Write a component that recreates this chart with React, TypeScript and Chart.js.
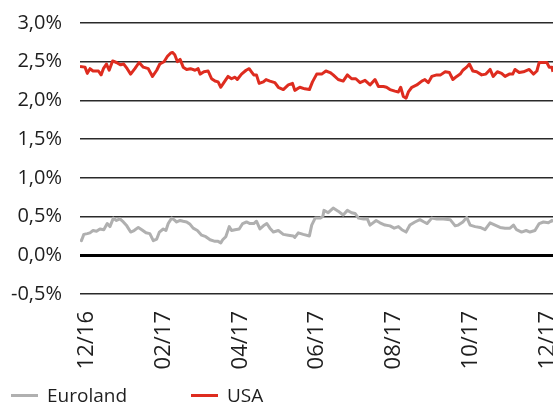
import React, { useEffect, useRef } from "react";
import { Chart, registerables } from "chart.js";

Chart.register(...registerables);

// x values are months since the start of December 2016
const tickMonths = [0, 2, 4, 6, 8, 10, 12];
const tickLabels = ["12/16", "02/17", "04/17", "06/17", "08/17", "10/17", "12/17"];
const yTicks = [-0.5, 0, 0.5, 1.0, 1.5, 2.0, 2.5, 3.0];

const usaT = [-0.18,-0.05,0.01,0.08,0.16,0.30,0.37,0.43,0.51,0.58,0.67,0.77,0.88,0.96,1.05,1.14,1.25,1.36,1.47,1.60,1.71,1.82,1.90,2.01,2.10,2.18,2.23,2.29,2.36,2.43,2.51,2.60,2.70,2.82,2.90,2.95,3.05,3.16,3.25,3.34,3.42,3.49,3.57,3.68,3.77,3.86,3.92,4.03,4.15,4.23,4.29,4.35,4.42,4.49,4.60,4.67,4.77,
  4.90,4.99,5.12,5.25,5.36,5.42,5.55,5.68,5.80,5.88,5.99,6.12,6.23,6.34,6.42,6.55,6.68,6.79,6.90,7.01,7.12,7.25,7.38,7.51,7.60,7.73,7.81,7.90,8.03,8.12,8.18,8.25,8.32,8.38,8.47,8.60,8.73,8.81,8.90,8.99,9.12,9.22,9.34,9.45,9.54,9.64,9.73,9.80,9.90,9.97,10.06,10.16,10.29,10.40,10.51,10.59,10.70,10.81,10.90,11.01,11.10,11.16,11.27,11.38,11.53,11.64,11.73,11.79,11.90,11.99,12.05,12.12,12.15];
const usaV = [2.44,2.43,2.35,2.41,2.38,2.38,2.33,2.41,2.47,2.39,2.51,2.49,2.46,2.47,2.41,2.34,2.41,2.49,2.43,2.41,2.31,2.39,2.47,2.50,2.57,2.61,2.62,2.59,2.50,2.53,2.43,2.40,2.41,2.39,2.41,2.34,2.37,2.38,2.28,2.25,2.24,2.17,2.23,2.31,2.28,2.30,2.27,2.34,2.39,2.41,2.37,2.33,2.33,2.22,2.24,2.27,2.25,
  2.23,2.17,2.14,2.20,2.22,2.13,2.17,2.15,2.14,2.24,2.34,2.34,2.38,2.36,2.33,2.27,2.25,2.33,2.28,2.28,2.23,2.26,2.20,2.27,2.18,2.18,2.17,2.14,2.12,2.11,2.17,2.05,2.03,2.11,2.17,2.20,2.25,2.27,2.23,2.31,2.33,2.33,2.37,2.36,2.27,2.31,2.34,2.39,2.43,2.47,2.38,2.37,2.33,2.34,2.40,2.31,2.37,2.35,2.31,2.34,2.34,2.40,2.36,2.37,2.40,2.34,2.38,2.49,2.49,2.49,2.43,2.43,2.37];

const euroT = [-0.18,-0.14,-0.08,0.01,0.08,0.16,0.25,0.34,0.44,0.53,0.60,0.69,0.77,0.86,0.95,1.04,1.14,1.23,1.34,1.43,1.54,1.64,1.73,1.82,1.89,1.99,2.06,2.12,2.21,2.27,2.34,2.43,2.51,2.60,2.69,2.77,2.88,2.99,3.10,3.21,3.34,3.42,3.49,3.54,3.62,3.71,3.77,3.86,3.97,4.06,4.16,4.25,4.35,4.42,4.51,4.60,4.69,4.77,
  4.86,4.99,5.12,5.25,5.38,5.42,5.51,5.64,5.80,5.86,5.95,6.08,6.15,6.18,6.29,6.42,6.55,6.68,6.79,6.90,6.99,7.08,7.21,7.31,7.38,7.54,7.64,7.77,7.90,8.01,8.12,8.21,8.32,8.42,8.55,8.68,8.79,8.87,8.99,9.12,9.29,9.47,9.60,9.68,9.80,9.90,9.99,10.12,10.25,10.38,10.51,10.64,10.77,10.90,11.03,11.12,11.20,11.33,11.45,11.55,11.68,11.79,11.90,12.03,12.12,12.15];
const euroV = [0.20,0.19,0.27,0.28,0.29,0.32,0.31,0.34,0.33,0.41,0.37,0.48,0.45,0.47,0.43,0.38,0.30,0.32,0.36,0.33,0.29,0.28,0.19,0.21,0.30,0.34,0.32,0.41,0.48,0.46,0.43,0.45,0.44,0.43,0.40,0.35,0.32,0.26,0.24,0.20,0.18,0.18,0.16,0.20,0.24,0.37,0.32,0.33,0.34,0.41,0.43,0.41,0.41,0.44,0.34,0.38,0.41,0.35,
  0.30,0.32,0.27,0.26,0.25,0.23,0.29,0.27,0.25,0.39,0.48,0.48,0.50,0.58,0.55,0.61,0.57,0.52,0.58,0.55,0.54,0.48,0.47,0.47,0.39,0.45,0.42,0.39,0.38,0.35,0.37,0.33,0.30,0.39,0.43,0.46,0.43,0.41,0.48,0.47,0.47,0.46,0.38,0.39,0.43,0.49,0.39,0.37,0.36,0.33,0.42,0.39,0.36,0.35,0.35,0.39,0.33,0.30,0.32,0.30,0.32,0.41,0.43,0.42,0.45,0.43];

const RED = "#de2c1f";
const GRAY = "#b0b0b0";
const FONT = "'Open Sans', 'Noto Sans', sans-serif";

export default function App() {
  const ref = useRef<HTMLCanvasElement | null>(null);

  useEffect(() => {
    if (!ref.current) return;
    const chart = new Chart(ref.current, {
      type: "line",
      data: {
        datasets: [
          {
            label: "Euroland",
            data: euroT.map((t, i) => ({ x: t, y: euroV[i] })),
            borderColor: GRAY,
            backgroundColor: GRAY,
            borderWidth: 3,
            pointRadius: 0,
            tension: 0,
            borderJoinStyle: "round",
          },
          {
            label: "USA",
            data: usaT.map((t, i) => ({ x: t, y: usaV[i] })),
            borderColor: RED,
            backgroundColor: RED,
            borderWidth: 3,
            pointRadius: 0,
            tension: 0,
            borderJoinStyle: "round",
          },
        ],
      },
      options: {
        animation: false,
        responsive: false,
        maintainAspectRatio: false,
        layout: { padding: { top: 23, right: 0, bottom: 0, left: 0 } },
        plugins: { legend: { display: false }, tooltip: { enabled: false } },
        scales: {
          x: {
            type: "linear",
            min: -0.18,
            max: 12.15,
            grid: { display: false },
            border: { display: false },
            afterBuildTicks: (s: any) => {
              s.ticks = tickMonths.map((v) => ({ value: v }));
            },
            afterFit: (s: any) => {
              s.height = 109;
              s.paddingLeft = 0;
              s.paddingRight = 0;
            },
            ticks: {
              autoSkip: false,
              minRotation: 90,
              maxRotation: 90,
              padding: 9,
              color: "#1e1e1e",
              font: { family: FONT, size: 22 },
              callback: (v: any) => {
                const i = tickMonths.indexOf(Number(v));
                return i >= 0 ? tickLabels[i] : "";
              },
            },
          },
          y: {
            min: -0.5,
            max: 3.0,
            border: { display: false },
            afterBuildTicks: (s: any) => {
              s.ticks = yTicks.map((v) => ({ value: v }));
            },
            afterFit: (s: any) => {
              s.width = 80;
              s.paddingTop = 0;
              s.paddingBottom = 0;
            },
            grid: {
              drawTicks: false,
              color: (c: any) => (c.tick && c.tick.value === 0 ? "#000" : "#2a2a2a"),
              lineWidth: (c: any) => (c.tick && c.tick.value === 0 ? 3 : 1.5),
            },
            ticks: {
              padding: 18,
              color: "#1e1e1e",
              font: { family: FONT, size: 20 },
              callback: (v: any) => Number(v).toFixed(1).replace(".", ",") + "%",
            },
          },
        },
      },
    });
    return () => chart.destroy();
  }, []);

  const legendItem = (color: string, text: string, left: number) => (
    <div style={{ position: "absolute", left, top: 383, display: "flex", alignItems: "center", height: 24 }}>
      <div style={{ width: 27, height: 3, background: color, marginRight: 9 }} />
      <span style={{ fontFamily: FONT, fontSize: 19, color: "#1e1e1e", lineHeight: "24px" }}>{text}</span>
    </div>
  );

  return (
    <div style={{ position: "fixed", left: 0, top: 0, width: 553, height: 403, overflow: "hidden", background: "#fff" }}>
      <canvas ref={ref} width={553} height={403} style={{ position: "absolute", left: 0, top: 0 }} />
      {legendItem(GRAY, "Euroland", 11)}
      {legendItem(RED, "USA", 191)}
    </div>
  );
}
